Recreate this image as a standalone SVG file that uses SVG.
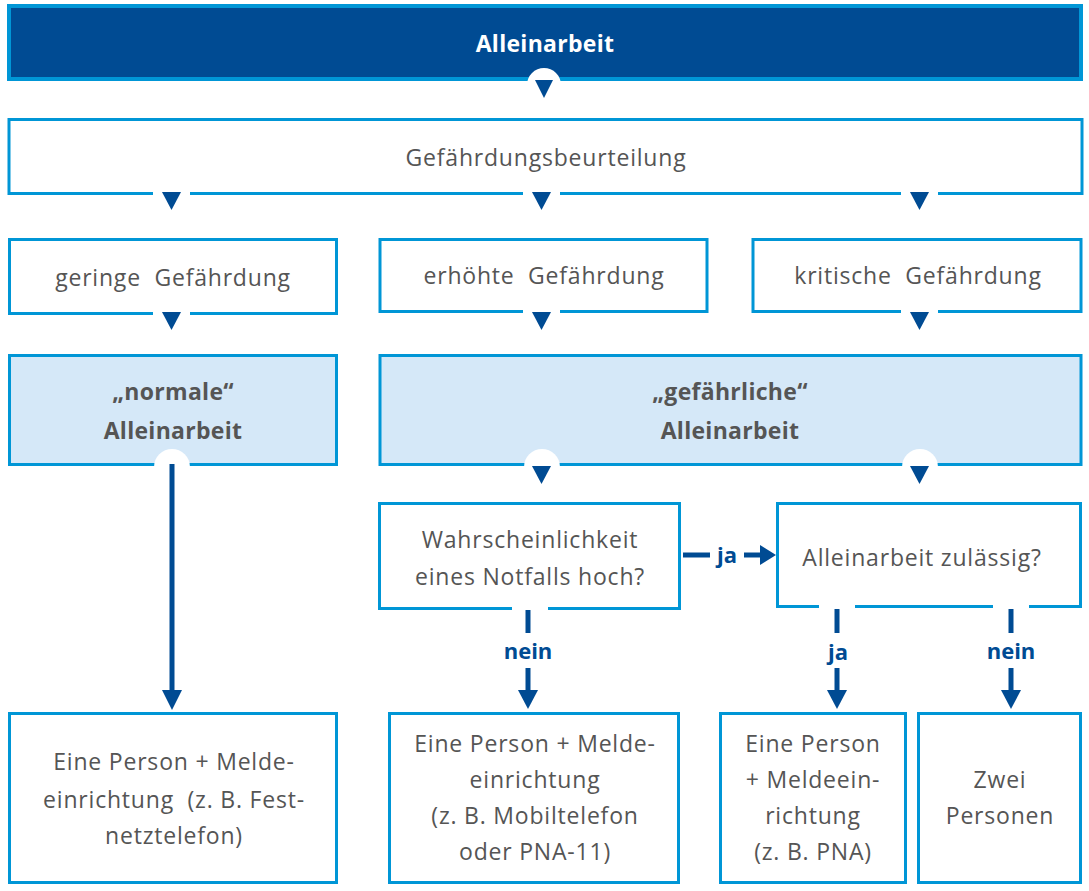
<svg xmlns="http://www.w3.org/2000/svg" width="1089" height="891" viewBox="0 0 1089 891">
<defs>
<style>
text{white-space:pre}
.box{fill:#fff;stroke:#0096d6;stroke-width:3}
.lbox{fill:#d5e8f8;stroke:#0096d6;stroke-width:3}
.t{font-family:"Open Sans","Noto Sans",sans-serif;font-size:23px;letter-spacing:0.8px;fill:#555;text-anchor:middle}
.b{font-family:"Open Sans","Noto Sans",sans-serif;font-size:23px;letter-spacing:0.3px;font-weight:bold;fill:#555;text-anchor:middle}
.w{font-family:"Open Sans","Noto Sans",sans-serif;font-size:23px;letter-spacing:0.3px;font-weight:bold;fill:#fff;text-anchor:middle}
.lab{font-family:"Open Sans","Noto Sans",sans-serif;font-size:22px;font-weight:bold;fill:#004b93;text-anchor:middle}
.ln{stroke:#004b93;stroke-width:5;fill:none}
.tri{fill:#004b93}
.gap{fill:#fff}
</style>
</defs>
<rect width="1089" height="891" fill="#fff"/>
<g id="n-top">
<rect x="9" y="6" width="1072" height="73" fill="#004b93" stroke="#0096d6" stroke-width="4"/>
<text class="w" x="545" y="52">Alleinarbeit</text>
</g>
<g id="n-gb">
<rect class="box" x="9" y="119.5" width="1073" height="74"/>
<text class="t" x="546" y="166">Gefährdungsbeurteilung</text>
</g>
<g id="n-geringe">
<rect class="box" x="9.5" y="239.5" width="327" height="74"/>
<text class="t" x="173" y="286" xml:space="preserve">geringe  Gefährdung</text>
</g>
<g id="n-erhoehte">
<rect class="box" x="380" y="239.5" width="327" height="72"/>
<text class="t" x="544" y="284" xml:space="preserve">erhöhte  Gefährdung</text>
</g>
<g id="n-kritische">
<rect class="box" x="753" y="239.5" width="328" height="72"/>
<text class="t" x="918" y="284" xml:space="preserve">kritische  Gefährdung</text>
</g>
<g id="n-normale">
<rect class="lbox" x="9.5" y="355.5" width="327" height="109"/>
<text class="b" x="173" y="400">„normale“</text>
<text class="b" x="173" y="439">Alleinarbeit</text>
</g>
<g id="n-gefaehrliche">
<rect class="lbox" x="380" y="355.5" width="701" height="109"/>
<text class="b" x="730" y="400">„gefährliche“</text>
<text class="b" x="730" y="439">Alleinarbeit</text>
</g>
<g id="n-wahr">
<rect class="box" x="379.5" y="503.5" width="300" height="105"/>
<text class="t" x="530" y="548">Wahrscheinlichkeit</text>
<text class="t" x="530" y="585">eines Notfalls hoch?</text>
</g>
<g id="n-zul">
<rect class="box" x="777.5" y="503.5" width="303" height="103"/>
<text class="t" x="922" y="566">Alleinarbeit zulässig?</text>
</g>
<g id="n-b1">
<rect class="box" x="9.5" y="713.5" width="327" height="169"/>
<text class="t" x="174" y="770">Eine Person + Melde-</text>
<text class="t" x="174" y="808" xml:space="preserve">einrichtung  (z. B. Fest-</text>
<text class="t" x="174" y="844">netztelefon)</text>
</g>
<g id="n-b2">
<rect class="box" x="389.5" y="713.5" width="289" height="169"/>
<text class="t" x="535" y="752">Eine Person + Melde-</text>
<text class="t" x="535" y="788">einrichtung</text>
<text class="t" x="535" y="824">(z. B. Mobiltelefon</text>
<text class="t" x="535" y="860">oder PNA-11)</text>
</g>
<g id="n-b3">
<rect class="box" x="720.5" y="713.5" width="185" height="169"/>
<text class="t" x="813" y="752">Eine Person</text>
<text class="t" x="813" y="788">+ Meldeein-</text>
<text class="t" x="813" y="824">richtung</text>
<text class="t" x="813" y="860">(z. B. PNA)</text>
</g>
<g id="n-b4">
<rect class="box" x="918.5" y="713.5" width="162" height="169"/>
<text class="t" x="1000" y="788">Zwei</text>
<text class="t" x="1000" y="824">Personen</text>
</g>
<g id="connectors">
<circle class="gap" cx="544" cy="85" r="17"/>
<polygon class="tri" points="535,80 553,80 544,98"/>
<rect class="gap" x="153" y="190" width="37" height="8"/>
<rect class="gap" x="523" y="190" width="37" height="8"/>
<rect class="gap" x="901" y="190" width="37" height="8"/>
<polygon class="tri" points="162,192 181,192 171.5,210"/>
<polygon class="tri" points="532,192 551,192 541.5,210"/>
<polygon class="tri" points="910,192 929,192 919.5,210"/>
<rect class="gap" x="153" y="309" width="37" height="8"/>
<rect class="gap" x="523" y="307" width="37" height="8"/>
<rect class="gap" x="901" y="307" width="37" height="8"/>
<polygon class="tri" points="162,312 181,312 171.5,330"/>
<polygon class="tri" points="532,312 551,312 541.5,330"/>
<polygon class="tri" points="910,312 929,312 919.5,330"/>
<circle class="gap" cx="172" cy="467" r="18"/>
<circle class="gap" cx="542" cy="467" r="18"/>
<circle class="gap" cx="920" cy="467" r="18"/>
<line class="ln" x1="172" y1="464" x2="172" y2="692"/>
<polygon class="tri" points="162,690 182,690 172,710"/>
<polygon class="tri" points="532,466 551,466 541.5,484"/>
<polygon class="tri" points="910,466 929,466 919.5,484"/>
<line class="ln" x1="683" y1="555" x2="710" y2="555"/>
<line class="ln" x1="744" y1="555" x2="762" y2="555"/>
<polygon class="tri" points="760,545 776,555 760,565"/>
<text class="lab" x="727" y="563">ja</text>
<rect class="gap" x="512" y="605" width="36" height="8"/>
<line class="ln" x1="528" y1="610" x2="528" y2="633"/>
<text class="lab" x="528" y="659">nein</text>
<line class="ln" x1="528" y1="668" x2="528" y2="692"/>
<polygon class="tri" points="518,690 538,690 528,709"/>
<rect class="gap" x="819" y="603" width="36" height="8"/>
<rect class="gap" x="993" y="603" width="36" height="8"/>
<line class="ln" x1="837" y1="609" x2="837" y2="633"/>
<text class="lab" x="838" y="660">ja</text>
<line class="ln" x1="837" y1="668" x2="837" y2="692"/>
<polygon class="tri" points="827,690 847,690 837,709"/>
<line class="ln" x1="1011" y1="609" x2="1011" y2="633"/>
<text class="lab" x="1011" y="659">nein</text>
<line class="ln" x1="1011" y1="668" x2="1011" y2="692"/>
<polygon class="tri" points="1001,690 1021,690 1011,709"/>
</g>
</svg>
